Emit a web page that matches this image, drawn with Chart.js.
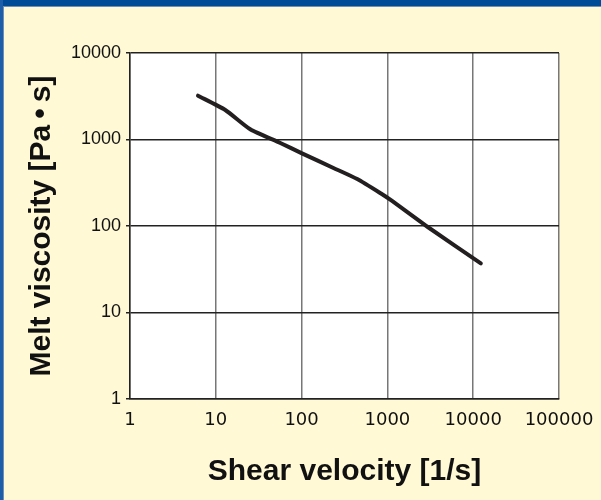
<!DOCTYPE html>
<html>
<head>
<meta charset="utf-8">
<script src="https://cdn.jsdelivr.net/npm/chart.js@4"></script>
<style>
  html, body { margin: 0; padding: 0; background: #fff9d6; }
  canvas { display: block; }
</style>
</head>
<body>
<canvas id="viscosityChart" width="601" height="500"></canvas>
<script>
// Melt viscosity vs shear velocity (log-log)
const shearVelocity = [6.2, 12.9, 25.2, 56.5, 101, 235, 445, 833, 1090, 2925, 12270];
const meltViscosity = [3208, 2193, 1312, 912, 692, 469, 349, 239, 200, 98, 37];

const xTicks = [1, 10, 100, 1000, 10000, 100000];
const yTicks = [1, 10, 100, 1000, 10000];

const points = shearVelocity.map((x, i) => ({ x: x, y: meltViscosity[i] }));

// cream page, white plot area and the blue frame bits
const framePlugin = {
    id: 'frame',
    beforeDraw(chart) {
        const ctx = chart.ctx;
        const area = chart.chartArea;
        ctx.save();
        ctx.fillStyle = '#fff9d6';
        ctx.fillRect(0, 0, chart.width, chart.height);
        ctx.fillStyle = '#ffffff';
        ctx.fillRect(area.left, area.top, area.right - area.left, area.bottom - area.top);
        ctx.fillStyle = '#004b97';
        ctx.fillRect(0, 0, chart.width, 6);
        ctx.fillStyle = '#1c5fa8';
        ctx.fillRect(0, 0, 3, chart.height);
        ctx.fillStyle = '#6f8fb8';
        ctx.fillRect(3, 6, 1, chart.height - 6);
        ctx.fillRect(3, 6, chart.width - 3, 1);
        ctx.restore();
    }
};

function powersOnly(values) {
    return scale => {
        scale.ticks = values.map(v => ({ value: v }));
    };
}

const ctx = document.getElementById('viscosityChart').getContext('2d');

new Chart(ctx, {
    type: 'scatter',
    data: {
        datasets: [{
            data: points,
            showLine: true,
            borderColor: '#231f20',
            borderWidth: 4,
            pointRadius: 0,
            borderCapStyle: 'round',
            borderJoinStyle: 'round',
            tension: 0.2,
            fill: false,
        }],
    },
    options: {
        responsive: false,
        animation: false,
        devicePixelRatio: 1,
        layout: { padding: { top: 53, right: 42, bottom: 0, left: 0 } },
        plugins: {
            legend: { display: false },
            tooltip: { enabled: false },
        },
        scales: {
            x: {
                type: 'logarithmic',
                min: 1,
                max: 100000,
                afterBuildTicks: powersOnly(xTicks),
                afterFit: scale => {
                    scale.height = 101;
                    // labels may overhang, don't let them shrink the plot
                    scale.paddingLeft = 0;
                    scale.paddingRight = 0;
                },
                grid: { color: '#777777', lineWidth: 1.5, drawTicks: false },
                border: { color: '#222222', width: 1.5 },
                ticks: {
                    color: '#111111',
                    padding: 11,
                    maxRotation: 0,
                    autoSkip: false,
                    font: { family: 'DejaVu Sans', size: 18 },
                    callback: v => String(v),
                },
                title: {
                    display: true,
                    text: 'Shear velocity [1/s]',
                    color: '#111111',
                    padding: { top: 10, bottom: 10 },
                    font: { family: 'Liberation Sans', size: 30, weight: 'bold' },
                },
            },
            y: {
                type: 'logarithmic',
                min: 1,
                max: 10000,
                afterBuildTicks: powersOnly(yTicks),
                afterFit: scale => { scale.width = 130; },
                grid: { color: '#222222', lineWidth: 1.5, tickLength: 4 },
                border: { color: '#222222', width: 1.5 },
                ticks: {
                    color: '#111111',
                    padding: 5,
                    autoSkip: false,
                    font: { family: 'Liberation Sans', size: 18 },
                    callback: v => String(v),
                },
                title: {
                    display: true,
                    text: 'Melt viscosity [Pa\u2009\u2022\u2009s]',
                    color: '#111111',
                    padding: { top: 24, bottom: 24 },
                    font: { family: 'Liberation Sans', size: 30, weight: 'bold' },
                },
            },
        },
    },
    plugins: [framePlugin],
});
</script>
</body>
</html>
